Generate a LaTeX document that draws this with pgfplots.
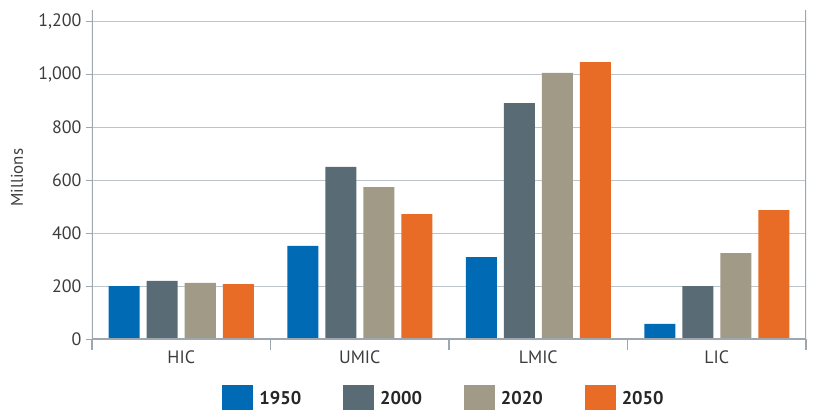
\documentclass[border=0pt]{standalone}
\usepackage{fontspec}
\setmainfont{PT Sans}
\usepackage{pgfplots}
\pgfplotsset{compat=1.18}
\definecolor{cA}{RGB}{0,106,180}
\definecolor{cB}{RGB}{89,107,117}
\definecolor{cC}{RGB}{161,154,134}
\definecolor{cD}{RGB}{232,108,37}
\definecolor{gridgray}{RGB}{188,197,203}
\definecolor{axgray}{RGB}{157,167,173}
\definecolor{txt}{RGB}{60,60,62}
\pgfplotsset{mylegend/.style={legend image code/.code={\fill[##1] (0bp,-13.5bp) rectangle (31bp,13.5bp); \path (35bp,0bp);}}}
\begin{document}
\begin{tikzpicture}
\begin{axis}[
  scale only axis, width=714bp, height=329bp,
  xmin=-0.5, xmax=3.5, ymin=0, ymax=1245,
  ybar, bar width=31bp,
  axis line style={draw=none},
  xtick pos=bottom, ytick pos=left,
  xtick={0,1,2,3}, xticklabels={HIC,UMIC,LMIC,LIC},
  xtick style={draw=none},
  extra x ticks={-0.5,0.5,1.5,2.5,3.5}, extra x tick labels={},
  extra x tick style={major tick length=11bp, tick align=outside, xtick pos=bottom, xtick style={draw=axgray, line width=1.2bp}, grid=none},
  ytick={0,200,...,1200},
  ymajorgrids, grid style={gridgray, line width=1bp},
  ytick style={draw=axgray, line width=1bp},
  tick align=outside, major tick length=6bp,
  /pgf/number format/assume math mode=true,
  /pgf/number format/1000 sep={,},
  ticklabel style={font=\fontsize{18}{20}\selectfont, text=txt},
  yticklabel style={xshift=-1bp},
  xticklabel style={yshift=-2bp},
  ylabel={Millions},
  ylabel style={at={(axis description cs:-0.105,0.49)}, anchor=center, font=\fontsize{17}{19}\selectfont, text=txt},
  legend style={at={(0.493,-0.182)}, anchor=center, draw=none, fill=none,
    font=\bfseries\fontsize{18.5}{20}\selectfont, text=black!85,
    /tikz/every even column/.append style={column sep=40bp}},
  legend columns=4,
]
\addplot[fill=cA, draw=none, bar shift=-57bp, mylegend] coordinates {(0,200) (1,352) (2,310) (3,57)};
\addplot[fill=cB, draw=none, bar shift=-19bp, mylegend] coordinates {(0,220) (1,651) (2,893) (3,200)};
\addplot[fill=cC, draw=none, bar shift=19bp, mylegend] coordinates {(0,212) (1,575) (2,1007) (3,325)};
\addplot[fill=cD, draw=none, bar shift=57bp, mylegend] coordinates {(0,208) (1,473) (2,1048) (3,488)};
\legend{1950,2000,2020,2050}
\draw[axgray, line width=1.2bp] (rel axis cs:0,1) -- (rel axis cs:0,0) -- (rel axis cs:1,0) -- (rel axis cs:1,1);
\end{axis}
\pgfresetboundingbox
\useasboundingbox (-92bp,-71bp) rectangle (721bp,339bp);
\end{tikzpicture}
\end{document}
